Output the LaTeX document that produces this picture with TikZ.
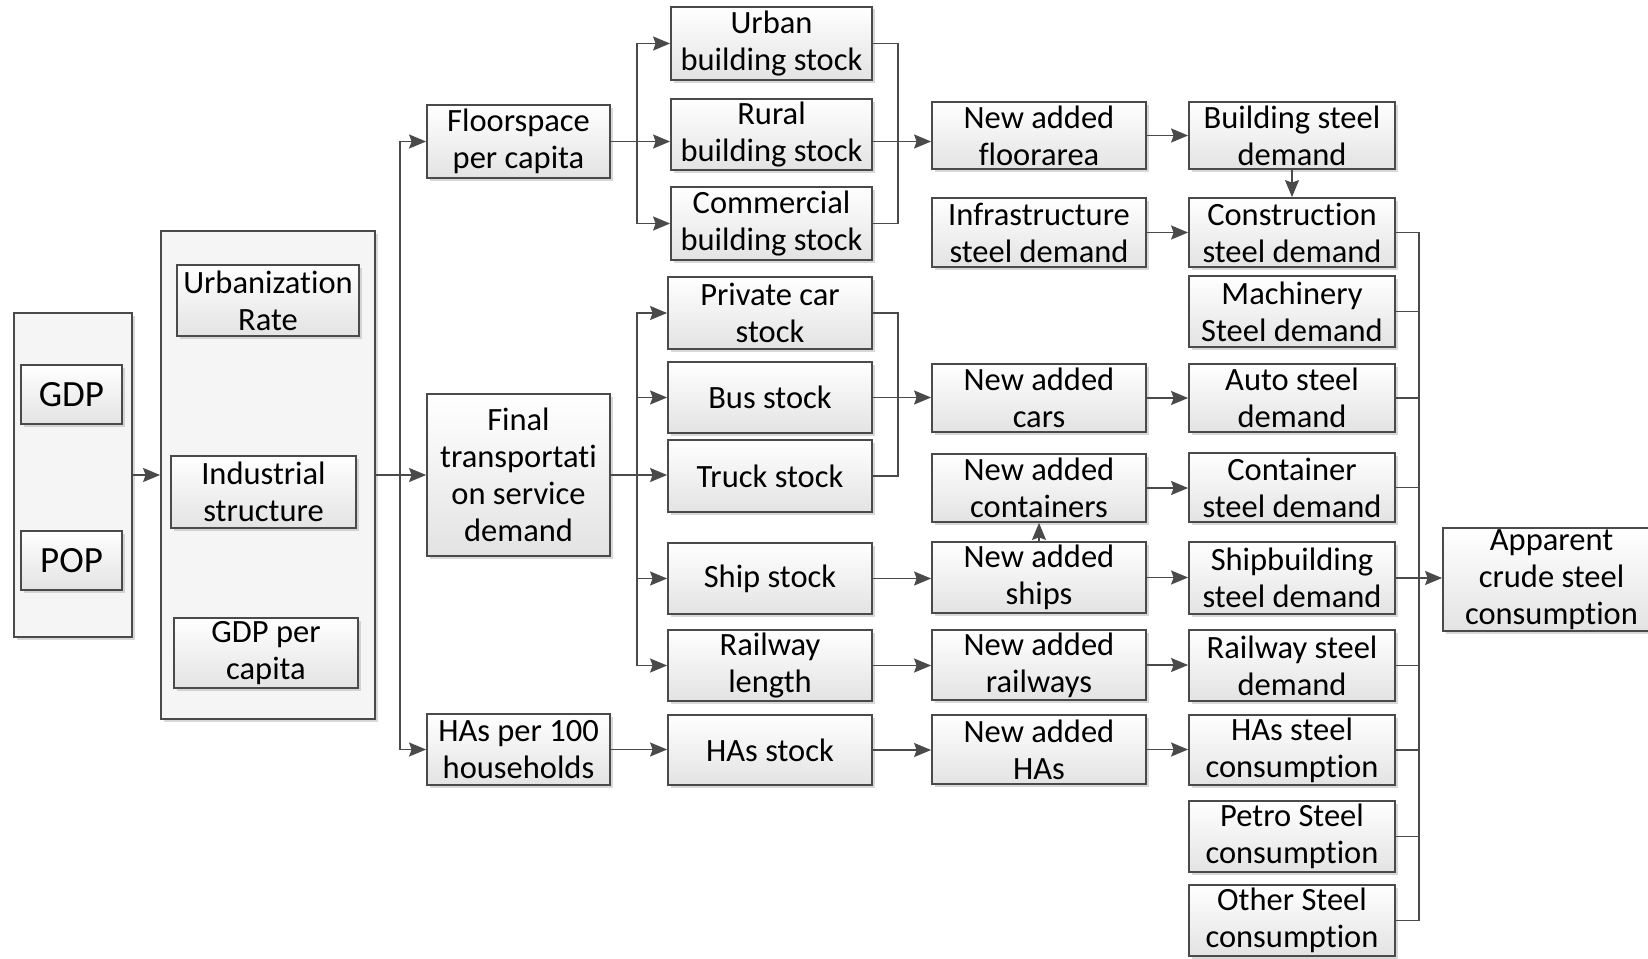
\documentclass[tikz,border=0pt]{standalone}
\usepackage{fontspec}
\setmainfont[Ligatures=NoCommon]{Carlito}
\usetikzlibrary{arrows.meta,shadows}
\definecolor{ln}{HTML}{4A4A4A}
\tikzset{
  bx/.style={draw=ln, line width=1.8pt, top color=white, bottom color=black!11,
    drop shadow={shadow xshift=2.5pt,shadow yshift=-2.5pt,fill=black!30,opacity=0.5},
    align=center, inner sep=0pt, font=\fontsize{32.5}{37}\selectfont},
  bigbx/.style={draw=ln, line width=1.8pt, fill=black!4,
    drop shadow={shadow xshift=2.5pt,shadow yshift=-2.5pt,fill=black!30,opacity=0.5},
    inner sep=0pt},
  conn/.style={draw=ln, line width=1.7pt},
  arr/.style={conn, -{Stealth[length=17pt,width=14pt,inset=2.5pt]}},
}
\newcommand{\bxnode}[6]{\node[bx, minimum width=#4pt, minimum height=#5pt] (#1) at (#2,#3) {#6};}
\begin{document}
\begin{tikzpicture}[x=1pt,y=-1pt]
\clip (0,0) rectangle (1648,958);
\fill[white] (0,0) rectangle (1648,958);
% containers
\node[bigbx, minimum width=118pt, minimum height=324pt] (outer) at (73,475) {};
\node[bigbx, minimum width=214pt, minimum height=488pt] (box2) at (268,475) {};
\node[bx, minimum width=101pt, minimum height=59pt, font=\fontsize{37}{40}\selectfont] (gdp) at (71.5,394.5) {GDP};
\node[bx, minimum width=101pt, minimum height=59pt, font=\fontsize{37}{40}\selectfont] (pop) at (71.5,560.5) {POP};
\bxnode{urb}{268}{300.5}{182}{71}{Urbanization\\Rate}
\bxnode{ind}{263.5}{492}{185}{72}{Industrial\\structure}
\bxnode{gdppc}{266}{653}{184}{70}{GDP per\\capita}
% column 1
\bxnode{floorspace}{518.5}{141.5}{183}{73}{Floorspace\\per capita}
\bxnode{final}{518.5}{475}{183}{162}{Final\\transportati\\on service\\demand}
\bxnode{hasper}{518.5}{749.5}{183}{71}{HAs per 100\\households}
% column 2
\bxnode{urban}{771.5}{43.5}{201}{73}{Urban\\building stock}
\bxnode{rural}{771.5}{134.5}{201}{71}{Rural\\building stock}
\bxnode{commercial}{771.5}{223.5}{201}{73}{Commercial\\building stock}
\bxnode{private}{770}{313}{204}{72}{Private car\\stock}
\bxnode{bus}{770}{397.5}{204}{71}{Bus stock}
\bxnode{truck}{770}{476}{204}{72}{Truck stock}
\bxnode{ship}{770}{578.5}{204}{71}{Ship stock}
\bxnode{raillen}{770}{665.5}{204}{71}{Railway\\length}
\bxnode{hasstock}{770}{750}{204}{70}{HAs stock}
% column 3
\bxnode{floorarea}{1039}{135.5}{214}{67}{New added\\floorarea}
\bxnode{infra}{1039}{232.5}{214}{69}{Infrastructure\\steel demand}
\bxnode{cars}{1039}{398}{214}{68}{New added\\cars}
\bxnode{containers}{1039}{488}{214}{68}{New added\\containers}
\bxnode{ships}{1039}{577.5}{214}{71}{New added\\ships}
\bxnode{railways}{1039}{665}{214}{70}{New added\\railways}
\bxnode{newhas}{1039}{749.5}{214}{69}{New added\\HAs}
% column 4
\bxnode{building}{1292}{135.5}{206}{67}{Building steel\\demand}
\bxnode{construction}{1292}{232.5}{206}{69}{Construction\\steel demand}
\bxnode{machinery}{1292}{311.5}{206}{71}{Machinery\\Steel demand}
\bxnode{auto}{1292}{398}{206}{68}{Auto steel\\demand}
\bxnode{container}{1292}{487.5}{206}{69}{Container\\steel demand}
\bxnode{shipbuilding}{1292}{578}{206}{72}{Shipbuilding\\steel demand}
\bxnode{railway}{1292}{665.5}{206}{71}{Railway steel\\demand}
\bxnode{hassteel}{1292}{750}{206}{70}{HAs steel\\consumption}
\bxnode{petro}{1292}{836.5}{206}{71}{Petro Steel\\consumption}
\bxnode{other}{1292}{920.5}{206}{71}{Other Steel\\consumption}
% final
\node[bx, minimum width=217pt, minimum height=103pt] (apparent) at (1551.5,579.5) {Apparent\\crude steel\\consumption};
% coordinates
\coordinate (t) at (400,475);
\coordinate (b1) at (637,141.5);
\coordinate (m1) at (898,141.5);
\coordinate (b2) at (637,476);
\coordinate (m2) at (898,397.5);
\coordinate (busc) at (1419,578);
% connectors
\draw[arr] (outer.east) -- (box2.west);
\draw[arr] (box2.east) -- (final.west);
\draw[arr] (t) |- (floorspace.west);
\draw[arr] (t) |- (hasper.west);
\draw[arr] (floorspace.east) -- (rural.west |- floorspace.east);
\draw[arr] (b1) |- (urban.west);
\draw[arr] (b1) |- (commercial.west);
\draw[conn] (urban.east) -| (m1);
\draw[conn] (commercial.east) -| (m1);
\draw[arr] (rural.east |- floorspace.east) -- (floorarea.west |- floorspace.east);
\draw[arr] (floorarea.east) -- (building.west);
\draw[arr] (building.south) -- (construction.north);
\draw[arr] (infra.east) -- (construction.west);
\draw[arr] (final.east) -- (truck.west |- final.east);
\draw[arr] (b2) |- (private.west);
\draw[arr] (b2) |- (bus.west);
\draw[arr] (b2) |- (ship.west);
\draw[arr] (b2) |- (raillen.west);
\draw[conn] (private.east) -| (m2);
\draw[conn] (truck.east) -| (m2);
\draw[arr] (bus.east) -- (cars.west |- bus.east);
\draw[arr] (ship.east) -- (ships.west |- ship.east);
\draw[arr] (raillen.east) -- (railways.west |- raillen.east);
\draw[arr] (hasper.east) -- (hasstock.west |- hasper.east);
\draw[arr] (hasstock.east) -- (newhas.west |- hasstock.east);
\draw[arr] (ships.north) -- (containers.south);
\draw[arr] (cars.east) -- (auto.west |- cars.east);
\draw[arr] (containers.east) -- (container.west |- containers.east);
\draw[arr] (ships.east) -- (shipbuilding.west |- ships.east);
\draw[arr] (railways.east) -- (railway.west |- railways.east);
\draw[arr] (newhas.east) -- (hassteel.west |- newhas.east);
\foreach \n in {construction,machinery,auto,container,shipbuilding,railway,hassteel,petro,other}
  \draw[conn] (\n.east) -| (busc);
\draw[arr] (shipbuilding.east) -- (apparent.west |- shipbuilding.east);
\end{tikzpicture}
\end{document}
